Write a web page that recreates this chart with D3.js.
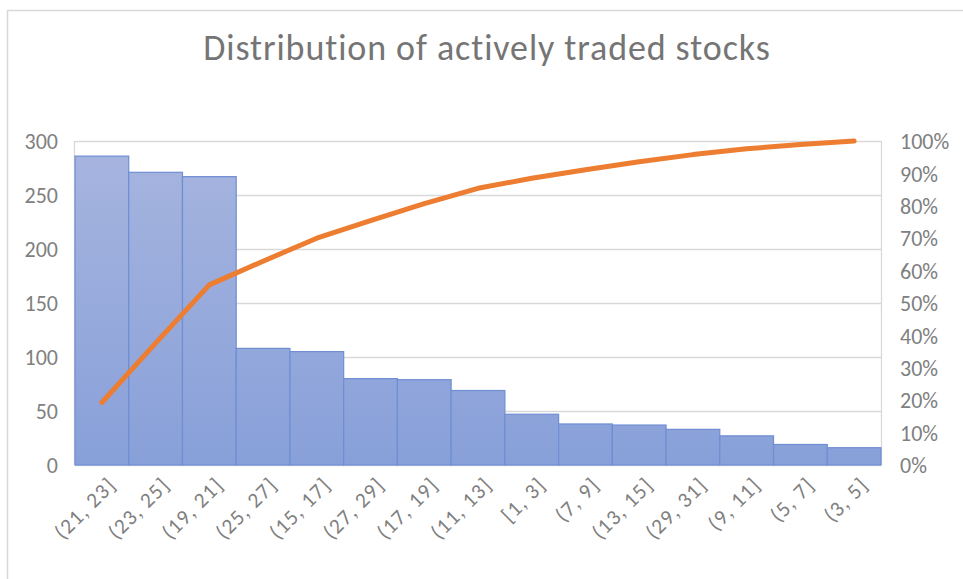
<!DOCTYPE html>
<html><head><meta charset="utf-8">
<script src="https://cdn.jsdelivr.net/npm/d3@7"></script>
<style>body{margin:0;background:#fff;}svg{display:block;font-family:Calibri,Carlito,Lato,sans-serif;}</style>
</head><body><svg id="c" width="963" height="579"></svg>
<script>
const title = "Distribution of actively traded stocks";
const categories = ["(21, 23]","(23, 25]","(19, 21]","(25, 27]","(15, 17]","(27, 29]","(17, 19]","(11, 13]","[1, 3]","(7, 9]","(13, 15]","(29, 31]","(9, 11]","(5, 7]","(3, 5]"];
const counts = [286,271,267,108,105,80,79,69,47,38,37,33,27,19,16];
const cumulativePct = [19.3,37.6,55.6,62.9,70.0,75.4,80.7,85.4,88.5,91.1,93.6,95.8,97.6,98.9,100];
const leftTicks = [0,50,100,150,200,250,300];
const rightTicks = [0,10,20,30,40,50,60,70,80,90,100];

const svg = d3.select("#c");
const m = {left:75, right:881, top:141, bottom:465};
const x = d3.scaleBand().domain(categories).range([m.left,m.right]).padding(0);
const y = d3.scaleLinear().domain([0,300]).range([m.bottom,m.top]);
const y2 = d3.scaleLinear().domain([0,100]).range([m.bottom,m.top]);
const font = "Calibri,Carlito,Lato,sans-serif";

// chart border
svg.append("path").attr("d","M7.5,579 V10.5 H963").attr("fill","none").attr("stroke","#d9d9d9").attr("stroke-width",1.5);

// gradient
const defs = svg.append("defs");
const g = defs.append("linearGradient").attr("id","bg").attr("gradientUnits","userSpaceOnUse")
  .attr("x1",0).attr("x2",0).attr("y1",m.top).attr("y2",m.bottom);
g.append("stop").attr("offset","0%").attr("stop-color","#a7b5df");
g.append("stop").attr("offset","100%").attr("stop-color","#88a0d9");

// title
svg.append("text").attr("x",487).attr("y",60).attr("text-anchor","middle").attr("font-size",36)
  .attr("letter-spacing","0.9px").attr("fill","#757575").text(title);

// gridlines
svg.append("g").selectAll("line").data(leftTicks).join("line")
  .attr("x1",m.left).attr("x2",m.right).attr("y1",d=>y(d)+0.5).attr("y2",d=>y(d)+0.5)
  .attr("stroke","#d9d9d9").attr("stroke-width",1.3);
svg.append("line").attr("x1",m.left-0.5).attr("x2",m.left-0.5).attr("y1",m.top).attr("y2",m.bottom).attr("stroke","#d9d9d9").attr("stroke-width",1.3);
svg.append("line").attr("x1",m.right+0.5).attr("x2",m.right+0.5).attr("y1",m.top).attr("y2",m.bottom).attr("stroke","#d9d9d9").attr("stroke-width",1.3);

// bars
svg.append("g").selectAll("rect").data(counts).join("rect")
  .attr("x",(d,i)=>x(categories[i])).attr("width",x.bandwidth())
  .attr("y",d=>y(d)).attr("height",d=>m.bottom-y(d))
  .attr("fill","url(#bg)").attr("stroke","#6f8ed3").attr("stroke-width",1.2);

// cumulative line
const line = d3.line().x((d,i)=>x(categories[i])+x.bandwidth()/2).y(d=>y2(d));
svg.append("path").datum(cumulativePct).attr("d",line).attr("fill","none")
  .attr("stroke","#ed7d31").attr("stroke-width",5).attr("stroke-linecap","round").attr("stroke-linejoin","round");

// left axis
const la = d3.axisLeft(y).tickValues(leftTicks).tickSize(0).tickPadding(17);
svg.append("g").attr("transform",`translate(${m.left},0)`).call(la)
  .call(s=>s.select(".domain").remove())
  .selectAll("text").attr("font-size",22).attr("fill","#808080").attr("font-family",font).attr("dy","0.35em");

// right axis
const ra = d3.axisRight(y2).tickValues(rightTicks).tickSize(0).tickPadding(19).tickFormat(d=>d+"%");
svg.append("g").attr("transform",`translate(${m.right},0)`).call(ra)
  .call(s=>s.select(".domain").remove())
  .selectAll("text").attr("font-size",22).attr("fill","#808080").attr("font-family",font).attr("dy","0.35em");

// x labels
svg.append("g").selectAll("text").data(categories).join("text")
  .attr("transform",d=>`translate(${x(d)+x.bandwidth()/2+10},${m.bottom+16}) rotate(-45)`)
  .attr("text-anchor","end").attr("font-size",21.5).attr("fill","#808080").attr("dy","0.35em")
  .attr("letter-spacing","1.2px")
  .text(d=>d);
</script></body></html>
